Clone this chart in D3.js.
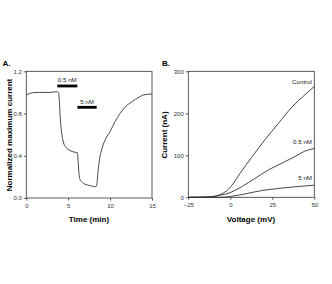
<!DOCTYPE html>
<html><head><meta charset="utf-8">
<script src="https://cdn.jsdelivr.net/npm/d3@7"></script>
<style>
body{margin:0;background:#fff;}
svg{display:block;font-family:"Liberation Sans",Arial,sans-serif;}
.tick text{font-family:"Liberation Sans Narrow","Liberation Sans",Arial,sans-serif;font-size:6px;fill:#333;}
.domain{display:none;}
.tick line{stroke:#333;stroke-width:0.8;}
</style></head>
<body>
<script>
// Panel A: time course
const timeMin = [0,0.84,1.6,2.8,3.7,3.86,3.94,4.02,4.18,4.42,4.74,5.2,5.7,6.09,6.17,6.29,6.4,6.72,7.28,7.8,8.2,8.4,8.5,8.67,8.99,9.5,9.99,10.58,11.18,11.78,12.57,13.57,13.97,15];
const normCurrent = [0.976,0.998,1.0,1.0,1.007,0.99,0.93,0.80,0.644,0.53,0.48,0.45,0.435,0.43,0.36,0.23,0.177,0.145,0.123,0.114,0.107,0.114,0.2,0.33,0.455,0.565,0.628,0.723,0.80,0.86,0.91,0.96,0.976,0.985];
const barLabels = ["0.5 nM","5 nM"];
const barStart = [3.7,6.1];
const barEnd = [6.09,8.4];
const barLevel = [1.061,0.859];
const timeTicks = [0,5,10,15];
const normTicks = [0.0,0.4,0.8,1.2];

// Panel B: I-V curves
const voltage = [-25,-11.1,-5.2,-1.2,1.8,5.8,12.7,20.6,28.6,36.5,44.4,50];
const controlI = [0,1.6,8,19,33,57,95,137,176,214,244,264];
const v05 = [-25,-15,-7.1,-0.2,6.7,14.7,22.6,30.6,38.5,44.4,50];
const i05 = [0,0,4,11,25,45,65,81,97,110,116];
const v5 = [-25,-5.2,0.8,8.7,18.7,28.6,38.5,50];
const i5 = [0,0,2.4,8,16,21,25,29];
const ivLabels = ["Control","0.5 nM","5 nM"];
const voltTicks = [-25,0,25,50];
const currTicks = [0,100,200,300];

const W=332,H=284;
const svg=d3.select("body").append("svg").attr("width",W).attr("height",H);
const col="#333";

function frame(g,x0,x1,y0,y1){
  g.append("rect").attr("x",x0).attr("y",y0).attr("width",x1-x0).attr("height",y1-y0)
   .attr("fill","none").attr("stroke",col).attr("stroke-width",0.8);
}

// ---- Panel A ----
const xA=d3.scaleLinear().domain([0,15]).range([26.3,152]);
const yA=d3.scaleLinear().domain([0,1.2]).range([198,71.3]);
const gA=svg.append("g");
frame(gA,26.3,152,71.3,198);
gA.append("g").attr("transform","translate(0,198)").attr("color","#333")
  .call(d3.axisBottom(xA).tickValues(timeTicks).tickFormat(d3.format("d")).tickSize(2.5).tickPadding(3));
gA.append("g").attr("transform","translate(26.3,0)").attr("color","#333")
  .call(d3.axisLeft(yA).tickValues(normTicks).tickFormat(d3.format(".1f")).tickSize(2.5).tickPadding(2));
gA.append("path").datum(timeMin.map((t,i)=>[t,normCurrent[i]]))
  .attr("d",d3.line().x(d=>xA(d[0])).y(d=>yA(d[1])).curve(d3.curveMonotoneX))
  .attr("fill","none").attr("stroke",col).attr("stroke-width",0.9);
barLabels.forEach((lab,i)=>{
  gA.append("line").attr("x1",xA(barStart[i])).attr("x2",xA(barEnd[i]))
    .attr("y1",yA(barLevel[i])).attr("y2",yA(barLevel[i]))
    .attr("stroke","#000").attr("stroke-width",2.8);
  gA.append("text").attr("x",(xA(barStart[i])+xA(barEnd[i]))/2).attr("y",yA(barLevel[i])-3.5)
    .attr("text-anchor","middle").attr("font-size",6.2)
    .attr("font-family","'Liberation Sans Narrow','Liberation Sans',Arial,sans-serif").attr("fill","#222").text(lab);
});
svg.append("text").attr("x",2.5).attr("y",66).attr("font-size",8).attr("font-weight","bold").text("A.");
svg.append("text").attr("x",89).attr("y",222).attr("text-anchor","middle").attr("font-size",8).attr("font-weight","bold").text("Time (min)");
svg.append("text").attr("transform","translate(12,135) rotate(-90)").attr("text-anchor","middle").attr("font-size",8).attr("font-weight","bold").text("Normalized maximum current");

// ---- Panel B ----
const xB=d3.scaleLinear().domain([-25,50]).range([188.3,314.3]);
const yB=d3.scaleLinear().domain([0,300]).range([197.3,71.3]);
const gB=svg.append("g");
frame(gB,188.3,314.3,71.3,197.3);
gB.append("g").attr("transform","translate(0,197.3)").attr("color","#333")
  .call(d3.axisBottom(xB).tickValues(voltTicks).tickFormat(d3.format("d")).tickSize(2.5).tickPadding(3));
gB.append("g").attr("transform","translate(188.3,0)").attr("color","#333")
  .call(d3.axisLeft(yB).tickValues(currTicks).tickFormat(d3.format("d")).tickSize(2.5).tickPadding(2));
const lineB=d3.line().x(d=>xB(d[0])).y(d=>yB(d[1])).curve(d3.curveMonotoneX);
[[voltage,controlI],[v05,i05],[v5,i5]].forEach(([vs,is])=>{
  gB.append("path").datum(vs.map((v,i)=>[v,is[i]])).attr("d",lineB)
    .attr("fill","none").attr("stroke",col).attr("stroke-width",0.9);
});
const labY=[82.3,141.7,177.7];
ivLabels.forEach((lab,i)=>{
  gB.append("text").attr("x",312).attr("y",labY[i]+2).attr("text-anchor","end")
    .attr("font-size",6.2).attr("font-family","'Liberation Sans Narrow','Liberation Sans',Arial,sans-serif")
    .attr("fill","#222").text(lab);
});
svg.append("text").attr("x",162).attr("y",66).attr("font-size",8).attr("font-weight","bold").text("B.");
svg.append("text").attr("x",251).attr("y",222).attr("text-anchor","middle").attr("font-size",8).attr("font-weight","bold").text("Voltage (mV)");
svg.append("text").attr("transform","translate(167,135) rotate(-90)").attr("text-anchor","middle").attr("font-size",8).attr("font-weight","bold").text("Current (nA)");
</script>
</body></html>
